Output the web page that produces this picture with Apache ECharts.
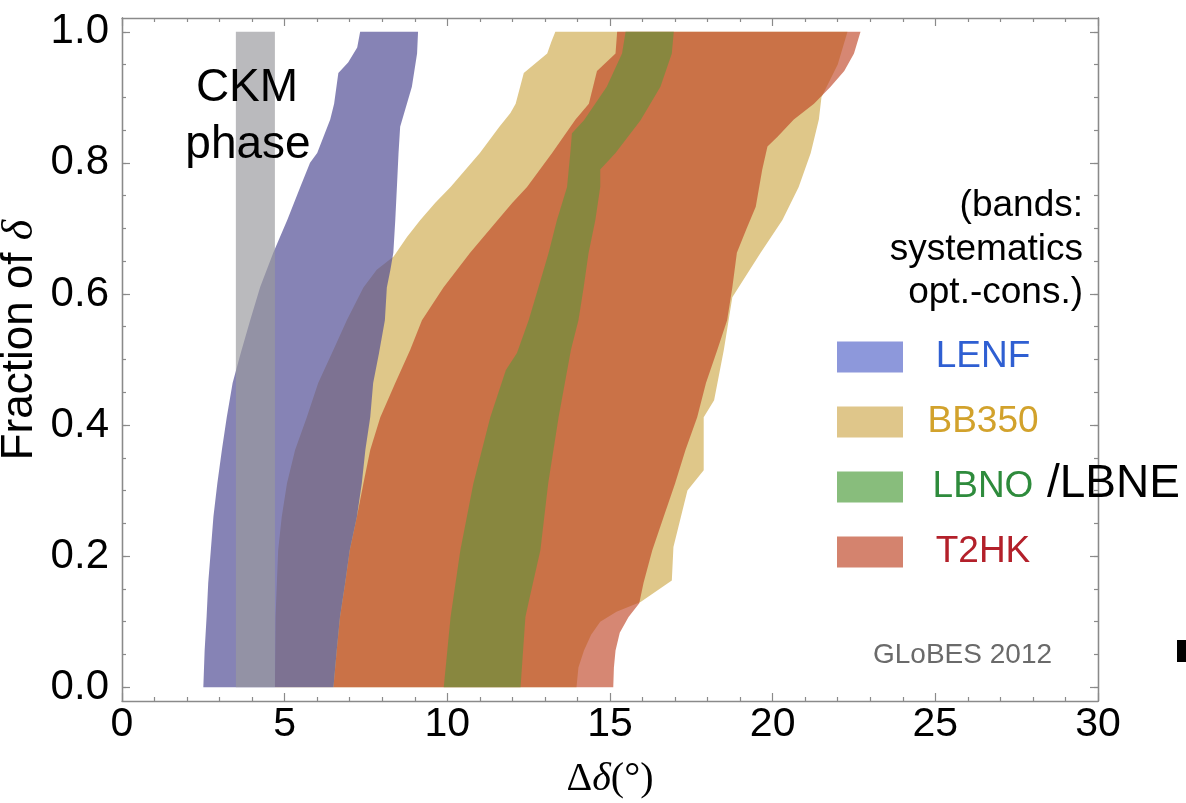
<!DOCTYPE html>
<html>
<head>
<meta charset="utf-8">
<script src="https://cdn.jsdelivr.net/npm/echarts@6/dist/echarts.min.js"></script>
<style>
html, body { margin: 0; padding: 0; background: #fff; }
#chart { width: 1186px; height: 803px; }
</style>
</head>
<body>
<div id="chart"></div>
<script>
// band edges, each point is [fraction of delta, precision in degrees]
const ckmEdges = [3.5, 4.7];

const lenfOpt = [[0, 2.5], [0.056, 2.54], [0.107, 2.6], [0.159, 2.65], [0.209, 2.73], [0.26, 2.81], [0.311, 2.93],
  [0.362, 3.07], [0.412, 3.22], [0.464, 3.4], [0.51, 3.65], [0.56, 3.94], [0.611, 4.25], [0.663, 4.65],
  [0.713, 5.08], [0.763, 5.48], [0.8, 5.78], [0.815, 6.0], [0.866, 6.4], [0.89, 6.52], [0.937, 6.65],
  [0.953, 6.95], [0.976, 7.23], [1, 7.32]];
const lenfCons = [[0, 6.5], [0.056, 6.6], [0.107, 6.7], [0.159, 6.86], [0.209, 7.0], [0.26, 7.22], [0.311, 7.37],
  [0.362, 7.48], [0.412, 7.63], [0.464, 7.72], [0.51, 7.9], [0.56, 8.08], [0.61, 8.14], [0.637, 8.25],
  [0.663, 8.34], [0.713, 8.4], [0.763, 8.45], [0.815, 8.5], [0.855, 8.55], [0.916, 8.91], [0.967, 9.07], [1, 9.1]];

const bb350Opt = [[0, 4.7], [0.107, 4.72], [0.159, 4.76], [0.209, 4.8], [0.26, 4.91], [0.311, 5.07], [0.362, 5.32],
  [0.412, 5.68], [0.464, 6.03], [0.515, 6.5], [0.56, 6.91], [0.61, 7.42], [0.637, 7.83], [0.657, 8.35],
  [0.687, 8.76], [0.713, 9.17], [0.739, 9.63], [0.763, 10.1], [0.815, 11.0], [0.855, 11.6], [0.876, 11.94],
  [0.89, 12.1], [0.937, 12.35], [0.967, 13.07], [0.985, 13.2], [1, 13.32]];
const bb350Cons = [[0, 13.97], [0.03, 14.03], [0.056, 14.2], [0.08, 14.42], [0.1, 14.7], [0.115, 15.2], [0.13, 15.94],
  [0.163, 16.9], [0.214, 16.95], [0.3, 17.38], [0.331, 17.88], [0.412, 17.88], [0.438, 18.2], [0.515, 18.5],
  [0.595, 18.76], [0.61, 18.95], [0.663, 19.63], [0.713, 20.3], [0.763, 20.8], [0.815, 21.17], [0.866, 21.42],
  [0.9, 21.5], [0.95, 22.0], [1, 22.3]];

const lbnoOpt = [[0, 9.89], [0.107, 10.1], [0.209, 10.4], [0.311, 10.8], [0.412, 11.32], [0.484, 11.8], [0.51, 12.14],
  [0.56, 12.5], [0.61, 12.8], [0.662, 13.11], [0.713, 13.37], [0.763, 13.68], [0.815, 13.78], [0.845, 13.83],
  [0.865, 14.2], [0.916, 14.9], [0.967, 15.37], [1, 15.48]];
const lbnoCons = [[0, 12.25], [0.107, 12.4], [0.13, 12.5], [0.209, 12.86], [0.311, 13.1], [0.412, 13.42], [0.515, 13.8],
  [0.56, 14.03], [0.61, 14.19], [0.662, 14.34], [0.713, 14.55], [0.763, 14.7], [0.79, 14.7], [0.815, 15.17],
  [0.865, 15.94], [0.916, 16.55], [0.967, 16.9], [1, 16.96]];

const t2hkOpt = [[0, 6.5], [0.056, 6.6], [0.107, 6.7], [0.159, 6.86], [0.209, 7.0], [0.26, 7.22], [0.311, 7.42],
  [0.362, 7.63], [0.412, 7.94], [0.464, 8.4], [0.515, 8.86], [0.56, 9.22], [0.61, 9.88], [0.663, 10.7],
  [0.713, 11.55], [0.739, 12.0], [0.763, 12.45], [0.815, 13.22], [0.866, 13.94], [0.89, 14.35], [0.94, 14.6],
  [0.967, 15.17], [1, 15.22]];
const t2hkCons = [[0, 15.1], [0.03, 15.12], [0.056, 15.17], [0.083, 15.3], [0.107, 15.57], [0.128, 15.9], [0.159, 16.03],
  [0.209, 16.3], [0.26, 16.65], [0.311, 17.0], [0.362, 17.32], [0.412, 17.68], [0.464, 17.95], [0.515, 18.3],
  [0.56, 18.6], [0.61, 18.76], [0.663, 18.9], [0.7, 19.2], [0.733, 19.48], [0.79, 19.68], [0.825, 19.84],
  [0.84, 20.15], [0.866, 20.65], [0.89, 21.27], [0.916, 21.78], [0.94, 22.2], [0.967, 22.5], [1, 22.7]];

const xTicks = [0, 5, 10, 15, 20, 25, 30];
const yTicks = [0, 0.2, 0.4, 0.6, 0.8, 1.0];
const yMinorTicks = [0, 0.05, 0.1, 0.15, 0.2, 0.25, 0.3, 0.35, 0.4, 0.45, 0.5, 0.55, 0.6, 0.65, 0.7, 0.75,
  0.8, 0.85, 0.9, 0.95, 1.0];

const legendNames = ['LENF', 'BB350', 'LBNO', 'T2HK'];
const legendTextColors = ['#2f5fd2', '#d2a22c', '#2e8b3c', '#b3202a'];
const legendSwatchColors = ['#8d98db', '#dfc68a', '#88bd7c', '#d4836e'];
const noteLines = ['(bands:', 'systematics', 'opt.-cons.)'];

const FONT = '"Liberation Sans", Arial, Helvetica, sans-serif';
const SERIF = '"Liberation Serif", "Times New Roman", serif';
const frameColor = '#8a8a8a';

// one polygon per band: opt edge going up, cons edge coming back down
function band(name, opt, cons, color, z) {
  const pts = opt.map(p => [p[1], p[0]]).concat(cons.slice().reverse().map(p => [p[1], p[0]]));
  return {
    type: 'custom',
    name: name,
    z: z,
    silent: true,
    coordinateSystem: 'cartesian2d',
    encode: { x: 0, y: 1 },
    data: pts,
    renderItem: (params, api) => {
      if (params.dataIndex !== 0) return null;
      return {
        type: 'polygon',
        shape: { points: pts.map(p => api.coord(p)) },
        style: { fill: color }
      };
    }
  };
}

const chart = echarts.init(document.getElementById('chart'));

const yRange = { min: -0.021, max: 1.021 };

function yAxisDef(position, ticks, len, labels) {
  return {
    type: 'value', position: position, min: yRange.min, max: yRange.max,
    axisLine: { show: true, lineStyle: { color: frameColor, width: 1.3 } },
    axisTick: { show: true, inside: true, length: len, customValues: ticks, lineStyle: { color: frameColor, width: 1.2 } },
    axisLabel: labels ? {
      show: true, customValues: yTicks, margin: 13, fontSize: 42, fontFamily: FONT, color: '#000',
      formatter: v => v.toFixed(1)
    } : { show: false },
    splitLine: { show: false }
  };
}

function xAxisDef(position, labels) {
  return {
    type: 'value', position: position, min: 0, max: 30, interval: 5,
    axisLine: { show: true, onZero: false, lineStyle: { color: frameColor, width: 1.3 } },
    axisTick: { show: true, inside: true, length: 8, lineStyle: { color: frameColor, width: 1.2 } },
    minorTick: { show: true, splitNumber: 5, length: 4, lineStyle: { color: frameColor, width: 1.2 } },
    axisLabel: labels ? {
      show: true, margin: 3, fontSize: 41, fontFamily: FONT, color: '#000',
      customValues: xTicks
    } : { show: false },
    splitLine: { show: false }
  };
}

function label(text, x, y, size, color, align, extra) {
  return Object.assign({
    type: 'text', x: x, y: y, z: 100,
    style: { text: text, font: size + 'px ' + FONT, fill: color, align: align, verticalAlign: 'middle',
      textAlign: align, textVerticalAlign: 'middle' }
  }, extra || {});
}

const graphics = [];

// CKM phase note
graphics.push(label('CKM', 247, 88, 46, '#000', 'center'));
graphics.push(label('phase', 248, 145, 46, '#000', 'center'));

// bands note
noteLines.forEach((t, i) => graphics.push(label(t, 1083, 206 + i * 43.5, 37, '#000', 'right')));

// legend
legendNames.forEach((n, i) => {
  const cy = 357 + i * 65;
  graphics.push({ type: 'rect', z: 100, shape: { x: 837, y: cy - 15.5, width: 66, height: 31 }, style: { fill: legendSwatchColors[i] } });
  graphics.push(label(n, 983, cy, 37, legendTextColors[i], 'center'));
});
graphics.push(label('/LBNE', 1047, 484, 46, '#000', 'left'));

graphics.push(label('GLoBES 2012', 873, 655, 28, '#6a6a6a', 'left'));

graphics.push({ type: 'rect', z: 100, shape: { x: 1177, y: 640, width: 9, height: 22 }, style: { fill: '#000' } });

// axis names
graphics.push({ type: 'text', x: 20, y: 340, rotation: Math.PI / 2, z: 100,
  style: {
    text: '{a|Fraction of }{b|δ}', align: 'center', verticalAlign: 'middle', textAlign: 'center', textVerticalAlign: 'middle',
    rich: {
      a: { fontSize: 44, fontFamily: FONT, fill: '#000', color: '#000' },
      b: { fontSize: 44, fontFamily: SERIF, fontStyle: 'italic', fill: '#000', color: '#000' }
    }
  } });
graphics.push({ type: 'text', x: 610, y: 779, z: 100,
  style: {
    text: '{a|Δ}{b|δ}{a|(°)}', align: 'center', verticalAlign: 'middle', textAlign: 'center', textVerticalAlign: 'middle',
    rich: {
      a: { fontSize: 40, fontFamily: SERIF, fill: '#000', color: '#000' },
      b: { fontSize: 40, fontFamily: SERIF, fontStyle: 'italic', fill: '#000', color: '#000' }
    }
  } });

chart.setOption({
  backgroundColor: '#fff',
  animation: false,
  grid: { left: 122, right: 88, top: 18, bottom: 102, containLabel: false },
  xAxis: [xAxisDef('bottom', true), xAxisDef('top', false)],
  yAxis: [
    yAxisDef('left', yTicks, 8, true),
    yAxisDef('left', yMinorTicks, 4, false),
    yAxisDef('right', yTicks, 8, false),
    yAxisDef('right', yMinorTicks, 4, false)
  ],
  series: [
    band('BB350', bb350Opt, bb350Cons, 'rgb(223,199,137)', 1),
    band('T2HK', t2hkOpt, t2hkCons, 'rgba(190,65,33,0.63)', 2),
    band('LBNO/LBNE', lbnoOpt, lbnoCons, 'rgba(92,150,59,0.6)', 3),
    band('LENF', lenfOpt, lenfCons, 'rgba(82,78,149,0.7)', 4),
    band('CKM phase', [[0, ckmEdges[0]], [1, ckmEdges[0]]], [[0, ckmEdges[1]], [1, ckmEdges[1]]], 'rgba(154,154,158,0.68)', 5)
  ],
  graphic: graphics
});
</script>
</body>
</html>
